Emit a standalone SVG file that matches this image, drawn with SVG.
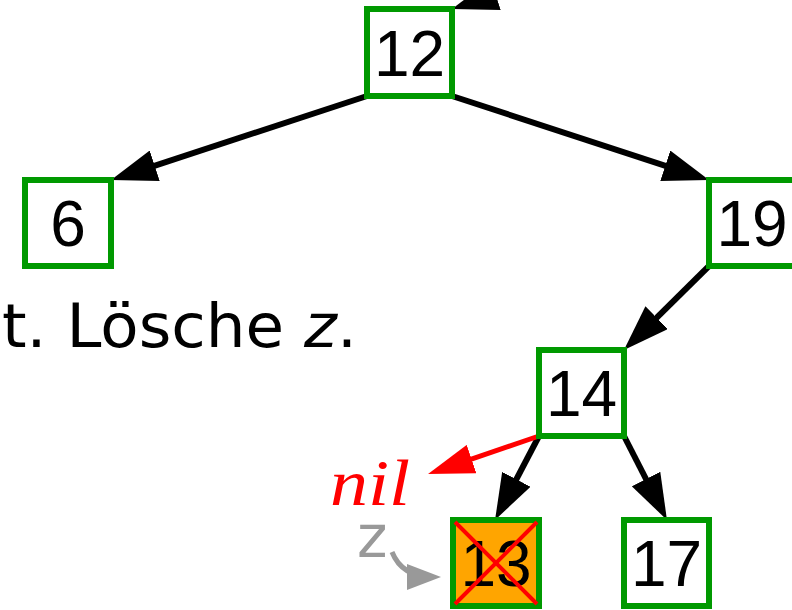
<svg xmlns="http://www.w3.org/2000/svg" width="792" height="610" viewBox="0 0 792 610">
<defs>
<style>
.node rect{fill:#fff;stroke:#009900;stroke-width:6}
.lbl{font-family:"Liberation Sans",Arial,sans-serif;font-size:64px;fill:#000;text-anchor:middle}
.edge{stroke:#000;stroke-width:6;fill:none}
</style>
<marker id="ah" markerUnits="userSpaceOnUse" markerWidth="46" markerHeight="32" viewBox="0 0 46 32" refX="34" refY="16" orient="auto"><path d="M0,0 L46,16 L0,32 z" fill="#000"/></marker>
<marker id="ahr" markerUnits="userSpaceOnUse" markerWidth="46" markerHeight="30" viewBox="0 0 46 30" refX="34" refY="15" orient="auto"><path d="M0,0 L46,15 L0,30 z" fill="#f00"/></marker>
<marker id="ahg" markerUnits="userSpaceOnUse" markerWidth="34" markerHeight="26" viewBox="0 0 34 26" refX="26" refY="13" orient="auto"><path d="M0,0 L34,13 L0,26 z" fill="#999"/></marker>
</defs>
<rect width="792" height="610" fill="#fff"/>
<g id="connectors">
<line class="edge" x1="700" y1="-72" x2="463.4" y2="5.3" marker-end="url(#ah)"/>
<line class="edge" x1="367" y1="96" x2="122.4" y2="176.3" marker-end="url(#ah)"/>
<line class="edge" x1="452" y1="96" x2="697.6" y2="176.3" marker-end="url(#ah)"/>
<line class="edge" x1="709" y1="266" x2="632.5" y2="341.6" marker-end="url(#ah)"/>
<line class="edge" x1="539" y1="436" x2="500.6" y2="509.4" marker-end="url(#ah)"/>
<line class="edge" x1="624" y1="436" x2="661.5" y2="509.3" marker-end="url(#ah)"/>
<line x1="539" y1="436" x2="439.4" y2="470.1" stroke="#f00" stroke-width="5" marker-end="url(#ahr)"/>
<path d="M392,552 Q402,577 433,577" stroke="#999" stroke-width="5" fill="none" marker-end="url(#ahg)"/>
</g>
<g id="n12" class="node"><rect x="367" y="9" width="85" height="87"/><text class="lbl" x="409.5" y="76">12</text></g>
<g id="n6" class="node"><rect x="25" y="180" width="86" height="86"/><text class="lbl" x="68" y="246">6</text></g>
<g id="n19" class="node"><rect x="709" y="180" width="86" height="86"/><text class="lbl" x="752" y="246">19</text></g>
<g id="n14" class="node"><rect x="539" y="350" width="85" height="86"/><text class="lbl" x="581.5" y="416">14</text></g>
<g id="n13" class="node"><rect x="453" y="520" width="86" height="86" style="fill:#ffa500"/><text class="lbl" x="496" y="586">13</text>
<line x1="455" y1="522" x2="537" y2="604" stroke="#f00" stroke-width="4"/><line x1="537" y1="522" x2="455" y2="604" stroke="#f00" stroke-width="4"/></g>
<g id="n17" class="node"><rect x="624" y="520" width="85" height="86"/><text class="lbl" x="666.5" y="586">17</text></g>
<text x="2" y="347" font-family="DejaVu Sans,Liberation Sans,sans-serif" font-size="60" textLength="355" lengthAdjust="spacingAndGlyphs">t. Lösche <tspan font-style="italic">z</tspan>.</text>
<text x="330" y="505" font-family="Liberation Serif,Times New Roman,serif" font-style="italic" font-size="66" fill="#f00" textLength="80" lengthAdjust="spacingAndGlyphs">nil</text>
<text x="357" y="557" font-family="DejaVu Sans,Liberation Sans,sans-serif" font-size="58" fill="#999">z</text>
</svg>
